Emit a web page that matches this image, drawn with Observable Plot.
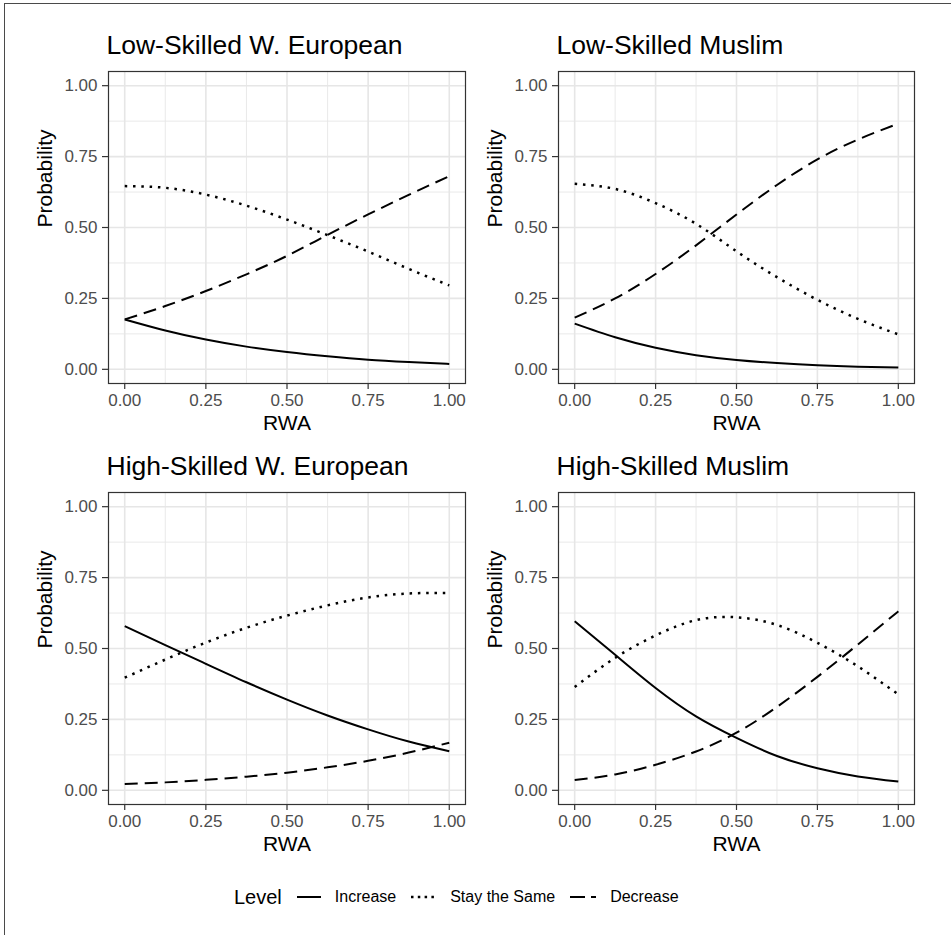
<!DOCTYPE html>
<html>
<head>
<meta charset="utf-8">
<script src="https://cdn.jsdelivr.net/npm/d3@7"></script>
<script src="https://cdn.jsdelivr.net/npm/@observablehq/plot@0.6"></script>
<style>
  body { margin: 0; background: #fff; font-family: "Liberation Sans", Arial, Helvetica, sans-serif; }
  #root { position: relative; width: 951px; height: 935px; overflow: hidden; background: #fff; }
  #border { position: absolute; left: 4px; top: 3px; width: 2000px; height: 2000px;
            border-top: 1.5px solid #4a4a4a; border-left: 1.7px solid #4a4a4a; }
  .panel { position: absolute; }
  .ptitle { position: absolute; font-size: 26.5px; line-height: 1; color: #000; white-space: nowrap; }
  #legend { position: absolute; left: 234px; top: 885px; height: 24px; display: flex; align-items: center; white-space: nowrap; color: #000; }
  #legend .lt { font-size: 20px; }
  #legend .it { font-size: 16px; }
  #legend svg { display: block; }
</style>
</head>
<body>
<div id="root"><div id="border"></div></div>
<script>
// ---------- data ----------
const rwa = [0, 0.125, 0.25, 0.375, 0.5, 0.625, 0.75, 0.875, 1];
const panelTitles = ["Low-Skilled W. European", "Low-Skilled Muslim", "High-Skilled W. European", "High-Skilled Muslim"];
const levelNames = ["Increase", "Stay the Same", "Decrease"];

// Low-Skilled W. European
const lowWE_increase = [0.176, 0.137, 0.105, 0.080, 0.061, 0.046, 0.034, 0.026, 0.019];
const lowWE_stay     = [0.646, 0.640, 0.616, 0.577, 0.528, 0.473, 0.415, 0.354, 0.296];
const lowWE_decrease = [0.176, 0.223, 0.276, 0.335, 0.400, 0.474, 0.546, 0.615, 0.681];
// Low-Skilled Muslim
const lowM_increase = [0.161, 0.113, 0.076, 0.050, 0.033, 0.022, 0.014, 0.009, 0.006];
const lowM_stay     = [0.654, 0.636, 0.586, 0.513, 0.416, 0.325, 0.245, 0.178, 0.123];
const lowM_decrease = [0.182, 0.250, 0.336, 0.437, 0.546, 0.650, 0.740, 0.810, 0.866];
// High-Skilled W. European
const highWE_increase = [0.579, 0.512, 0.446, 0.381, 0.320, 0.264, 0.215, 0.172, 0.138];
const highWE_stay     = [0.397, 0.461, 0.521, 0.573, 0.616, 0.652, 0.680, 0.694, 0.696];
const highWE_decrease = [0.022, 0.028, 0.037, 0.048, 0.062, 0.081, 0.104, 0.133, 0.168];
// High-Skilled Muslim
const highM_increase = [0.596, 0.478, 0.361, 0.261, 0.185, 0.121, 0.078, 0.049, 0.031];
const highM_stay     = [0.364, 0.467, 0.546, 0.600, 0.610, 0.583, 0.520, 0.437, 0.338];
const highM_decrease = [0.036, 0.056, 0.090, 0.137, 0.203, 0.294, 0.400, 0.514, 0.631];

const axisTicks = [0, 0.25, 0.5, 0.75, 1];
const minorTicks = [0.125, 0.375, 0.625, 0.875];

// ---------- build ----------
const seriesByPanel = [
  [lowWE_increase, lowWE_stay, lowWE_decrease],
  [lowM_increase, lowM_stay, lowM_decrease],
  [highWE_increase, highWE_stay, highWE_decrease],
  [highM_increase, highM_stay, highM_decrease]
];
const styles = {
  "Increase": { width: 2, dash: undefined },
  "Stay the Same": { width: 2.5, dash: "2.5,5.8" },
  "Decrease": { width: 2, dash: "13,7" }
};

const cols = [
  { left: 0, width: 470, ml: 108, mr: 5 },
  { left: 470, width: 481, ml: 88, mr: 37 }
];
const rows = [
  { top: 0, height: 440, mt: 71, mb: 57 },
  { top: 440, height: 430, mt: 52, mb: 66 }
];

const root = document.getElementById("root");
const fmt = d3.format(".2f");
const font = '"Liberation Sans", Arial, Helvetica, sans-serif';
const gridColor = "#e6e6e6";

panelTitles.forEach((title, i) => {
  const c = cols[i % 2], r = rows[Math.floor(i / 2)];
  const data = [];
  seriesByPanel[i].forEach((vals, k) => {
    vals.forEach((p, j) => data.push({ level: levelNames[k], rwa: rwa[j], p }));
  });
  const lineMarks = levelNames.map(name => Plot.line(data.filter(d => d.level === name), {
    x: "rwa", y: "p", stroke: "#000", strokeWidth: styles[name].width,
    strokeDasharray: styles[name].dash, strokeLinecap: "butt",
    curve: "natural"
  }));
  const chart = Plot.plot({
    width: c.width, height: r.height,
    marginLeft: c.ml, marginRight: c.mr, marginTop: r.mt, marginBottom: r.mb,
    style: { fontFamily: font, background: "transparent", overflow: "visible" },
    x: { domain: [-0.05, 1.05] },
    y: { domain: [-0.05, 1.05] },
    marks: [
      Plot.ruleX(minorTicks, { stroke: gridColor, strokeWidth: 0.9 }),
      Plot.ruleY(minorTicks, { stroke: gridColor, strokeWidth: 0.9 }),
      Plot.ruleX(axisTicks, { stroke: gridColor, strokeWidth: 1.6 }),
      Plot.ruleY(axisTicks, { stroke: gridColor, strokeWidth: 1.6 }),
      ...lineMarks,
      Plot.frame({ stroke: "#333", strokeWidth: 1.2 }),
      Plot.axisX({ ticks: axisTicks, tickFormat: fmt, tickSize: 6, tickPadding: 4, fontSize: 17,
                   stroke: "#333", fill: "#4d4d4d", strokeWidth: 1.2, label: null }),
      Plot.axisY({ ticks: axisTicks, tickFormat: fmt, tickSize: 6, tickPadding: 5, fontSize: 17,
                   stroke: "#333", fill: "#4d4d4d", strokeWidth: 1.2, label: null }),
      Plot.text(["Probability"], { frameAnchor: "left", dx: -63, rotate: -90, fontSize: 21, fill: "#000" }),
      Plot.text(["RWA"], { frameAnchor: "bottom", dy: 40, lineAnchor: "middle", fontSize: 21, fill: "#000" })
    ]
  });
  const wrap = document.createElement("div");
  wrap.className = "panel";
  wrap.style.left = c.left + "px";
  wrap.style.top = r.top + "px";
  wrap.appendChild(chart);
  root.appendChild(wrap);

  const t = document.createElement("div");
  t.className = "ptitle";
  t.textContent = title;
  const frameTop = r.top + r.mt;
  t.style.left = (c.left + c.ml - 1.5) + "px";
  t.style.top = (frameTop - 16.5 - 0.8465 * 26.5) + "px";
  root.appendChild(t);
});

// ---------- legend ----------
const legend = document.createElement("div");
legend.id = "legend";
function swatch(w, dash, sw) {
  const ns = "http://www.w3.org/2000/svg";
  const s = document.createElementNS(ns, "svg");
  s.setAttribute("width", w); s.setAttribute("height", 10);
  const l = document.createElementNS(ns, "line");
  l.setAttribute("x1", 0); l.setAttribute("x2", w);
  l.setAttribute("y1", 5); l.setAttribute("y2", 5);
  l.setAttribute("stroke", "#000"); l.setAttribute("stroke-width", sw);
  if (dash) l.setAttribute("stroke-dasharray", dash);
  s.appendChild(l);
  return s;
}
const lt = document.createElement("span");
lt.className = "lt"; lt.textContent = "Level";
lt.style.marginRight = "15px";
legend.appendChild(lt);
const swW = [24, 25, 26];
const legendDash = { "Increase": null, "Stay the Same": "2.5,4.3", "Decrease": "15,6" };
levelNames.forEach((name, k) => {
  const sw = swatch(swW[k], legendDash[name], styles[name].width);
  sw.style.marginRight = "14px";
  legend.appendChild(sw);
  const it = document.createElement("span");
  it.className = "it"; it.textContent = name;
  if (k < levelNames.length - 1) it.style.marginRight = "15px";
  legend.appendChild(it);
});
root.appendChild(legend);
</script>
</body>
</html>
